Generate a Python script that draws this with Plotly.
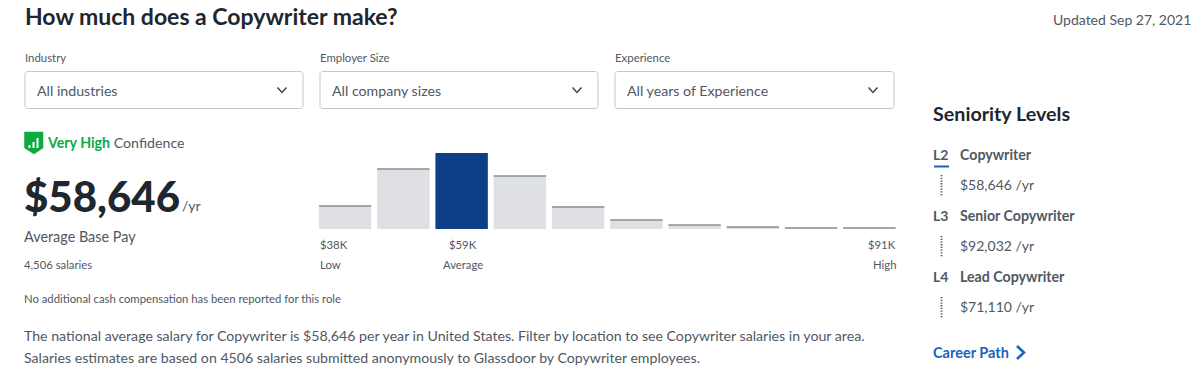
import plotly.graph_objects as go

W, H = 1200, 391

# ---- chart data ----
bins = list(range(1, 11))
counts = [23, 60, 76, 53, 22, 9, 4, 2, 1, 1]
highlight_bin = 3
axis_labels = ["$38K", "$59K", "$91K"]
axis_captions = ["Low", "Average", "High"]

# ---- page content ----
title = "How much does a Copywriter make?"
updated = "Updated Sep 27, 2021"
filters = [("Industry", "All industries"),
           ("Employer Size", "All company sizes"),
           ("Experience", "All years of Experience")]
levels = ["L2", "L3", "L4"]
roles = ["Copywriter", "Senior Copywriter", "Lead Copywriter"]
role_pay = ["$58,646 /yr", "$92,032 /yr", "$71,110 /yr"]

INK = "#20262e"
GREY = "#505863"
FONT = "Lato"


def px(x):
    return x / W


def py(y):
    return 1 - y / H


annotations = []
shapes = []


def text(x, y, s, size, color=GREY, anchor="left", weight=400):
    annotations.append(dict(
        x=px(x), y=py(y - 0.8), xref="paper", yref="paper", text=s, showarrow=False,
        xanchor=anchor, yanchor="middle", align=anchor,
        font=dict(family=FONT, size=size, color=color, weight=weight), borderpad=0, borderwidth=0))


def line(x0, y0, x1, y1, color, width=1, dash="solid"):
    shapes.append(dict(type="line", xref="paper", yref="paper", x0=px(x0), y0=py(y0),
                       x1=px(x1), y1=py(y1), line=dict(color=color, width=width, dash=dash)))


def path(points, color, width=1, fill=None, close=False):
    d = "M " + " L ".join(f"{px(a):.5f},{py(b):.5f}" for a, b in points) + (" Z" if close else "")
    shapes.append(dict(type="path", xref="paper", yref="paper", path=d,
                       line=dict(color=color, width=width),
                       fillcolor=fill if fill else "rgba(0,0,0,0)"))


text(24.5, 16.8, title, 23, INK, weight=700)
text(1191, 20.8, updated, 14, GREY, "right")

# filters
box_x = [(25, 303), (320, 598), (615, 894)]
for (lab, val), (x0, x1) in zip(filters, box_x):
    text(x0 - 0.5, 58, lab, 11.4, GREY)
    r = 2
    path([(x0 + r, 71.5), (x1 - r, 71.5), (x1, 71.5 + r), (x1, 108.5 - r), (x1 - r, 108.5),
          (x0 + r, 108.5), (x0, 108.5 - r), (x0, 71.5 + r)], "#c4c7cc", 1, "#ffffff", True)
    text(x0 + 12, 91.5, val, 14.2, GREY)
    cx = x1 - 21
    path([(cx - 4.5, 87.5), (cx, 92.5), (cx + 4.5, 87.5)], "#404650", 1.5)

# confidence badge
path([(24.5, 132), (43, 132), (43, 148), (34, 154), (24.5, 148)], "#0caa41", 0.5, "#0caa41", True)
for bx, by in [(29.5, 145), (33.5, 142), (37.5, 138)]:
    line(bx, 148, bx, by, "#ffffff", 2)
text(47, 143, '<span style="color:#0caa41"><b>Very High</b></span> Confidence', 14.2, GREY)

# headline number
text(24, 196.8, "$58,646", 42, INK, weight=900)
text(182, 206, "/yr", 14, GREY)
text(24, 237, "Average Base Pay", 14.4, GREY)
text(24, 265, "4,506 salaries", 11.3, GREY)
text(24, 299, "No additional cash compensation has been reported for this role", 11.3, GREY)
text(24, 336, "The national average salary for Copywriter is $58,646 per year in United States. "
              "Filter by location to see Copywriter salaries in your area.", 14.15, GREY)
text(24, 358, "Salaries estimates are based on 4506 salaries submitted anonymously to "
              "Glassdoor by Copywriter employees.", 14.15, GREY)

# histogram labels
for lab, cap, x, anc in zip(axis_labels, axis_captions, [320, 463, 896], ["left", "center", "right"]):
    text(x, 245, lab, 11.3, GREY, anc)
    text(x, 265, cap, 11.3, GREY, anc)

# seniority panel
text(933, 114, "Seniority Levels", 19.7, INK, weight=700)
row_y = [155, 216, 277]
for lev, role, pay, y in zip(levels, roles, role_pay, row_y):
    text(933, y, lev, 14, GREY, weight=700)
    text(960, y, role, 14.2, GREY, weight=700)
    text(960, y + 30, pay, 14, GREY)
    line(941.5, y + 20, 941.5, y + 41, "#505863", 1.8, "1.3px,1.4px")
line(934, 166.5, 949, 166.5, "#1861bf", 2)
text(933, 352.8, "Career Path", 14.5, "#1861bf", weight=700)
path([(1017, 346), (1024, 352.5), (1017, 359)], "#1861bf", 2.5)

fig = go.Figure()
fig.add_bar(
    x=bins, y=counts, width=0.9, showlegend=False,
    marker=dict(color=["#0d3f86" if b == highlight_bin else "#dee0e3" for b in bins],
                line=dict(width=0)),
)
fig.add_scatter(
    x=[b for b in bins if b != highlight_bin],
    y=[c for b, c in zip(bins, counts) if b != highlight_bin],
    mode="markers", marker=dict(size=1, opacity=0), showlegend=False,
    error_x=dict(type="constant", value=0.45, thickness=1.3, width=0, color="#8a8e94"),
)

fig.update_layout(
    width=W, height=H, autosize=False, margin=dict(l=0, r=0, t=0, b=0),
    paper_bgcolor="#ffffff", plot_bgcolor="#ffffff", bargap=0.1,
    annotations=annotations, shapes=shapes,
    xaxis=dict(domain=[px(316), px(898.5)], range=[0.5, 10.5], visible=False, fixedrange=True),
    yaxis=dict(domain=[py(229), py(153)], range=[0, 76], visible=False, fixedrange=True),
)
fig.write_html("out.html", config={"displayModeBar": False},
               post_script="document.body.style.margin='0';document.body.style.overflow='hidden';")
